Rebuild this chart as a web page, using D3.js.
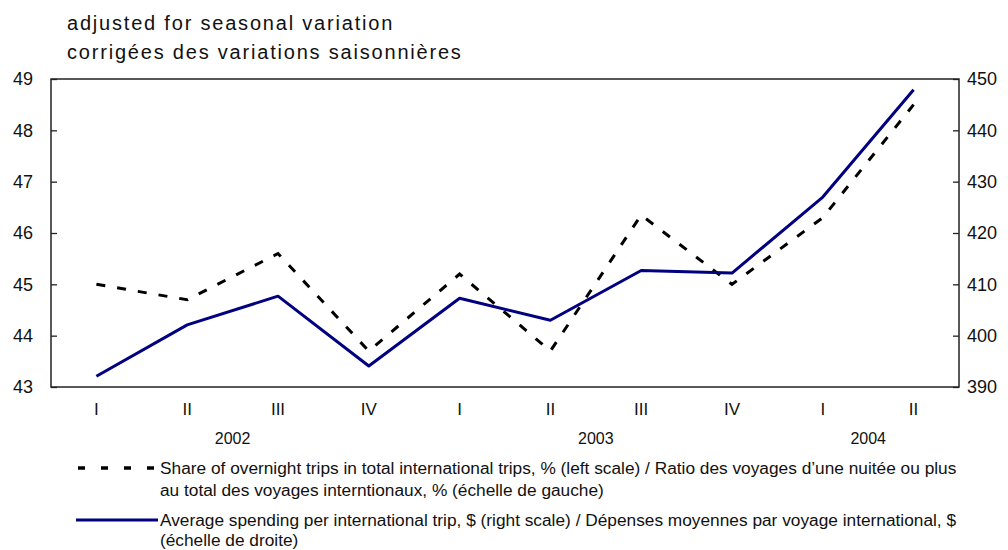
<!DOCTYPE html>
<html>
<head>
<meta charset="utf-8">
<script src="https://cdn.jsdelivr.net/npm/d3@7"></script>
<style>
  body { margin: 0; background: #fff; }
  svg text { fill: #111; }
</style>
</head>
<body>
<div id="chart"></div>
<script>
const quarterKeys = ['2002 I', '2002 II', '2002 III', '2002 IV', '2003 I', '2003 II', '2003 III', '2003 IV', '2004 I', '2004 II'];
const quarterLabels = ['I', 'II', 'III', 'IV', 'I', 'II', 'III', 'IV', 'I', 'II'];
const years = ['2002', '2003', '2004'];
const shareValues = [45.0, 44.7, 45.6, 43.7, 45.2, 43.7, 46.35, 45.0, 46.3, 48.5];
const spendingValues = [392.1, 402.1, 407.7, 394.1, 407.3, 403.0, 412.7, 412.2, 427.0, 447.9];
const leftTicks = [43, 44, 45, 46, 47, 48, 49];
const rightTicks = [390, 400, 410, 420, 430, 440, 450];

const W = 1008, H = 550;
const margin = { top: 79, right: 49, bottom: 163, left: 51 };
const width = W - margin.left - margin.right;
const height = H - margin.top - margin.bottom;
const FONT = 'Arial, "Liberation Sans", sans-serif';
const NARROW = '"Liberation Sans Narrow", "Arial Narrow", sans-serif';

const svg = d3.select('#chart').append('svg')
    .attr('width', W)
    .attr('height', H);

// titles (wide bitmap-like spacing in the original)
const titles = svg.append('g')
    .style('font-family', FONT).style('font-size', '20px').style('letter-spacing', '1.8px');
titles.append('text').attr('x', 67).attr('y', 30).text('adjusted for seasonal variation');
titles.append('text').attr('x', 67).attr('y', 59).text('corrigées des variations saisonnières');

const g = svg.append('g').attr('transform', `translate(${margin.left},${margin.top})`);

const x = d3.scalePoint().domain(quarterKeys).range([0, width]).padding(0.5);
const yLeft = d3.scaleLinear().domain([43, 49]).range([height, 0]);
const yRight = d3.scaleLinear().domain([390, 450]).range([height, 0]);

// axes with inward ticks
const leftAxis = g.append('g')
    .call(d3.axisLeft(yLeft).tickValues(leftTicks).tickSizeInner(-6).tickSizeOuter(0).tickPadding(18).tickFormat(d3.format('d')));
const rightAxis = g.append('g')
    .attr('transform', `translate(${width},0)`)
    .call(d3.axisRight(yRight).tickValues(rightTicks).tickSizeInner(-6).tickSizeOuter(0).tickPadding(8).tickFormat(d3.format('d')));

[leftAxis, rightAxis].forEach(a => {
    a.select('.domain').remove();
    a.selectAll('line').attr('stroke', '#222').attr('stroke-width', 1.3);
    a.selectAll('text').style('font-family', FONT).style('font-size', '18px').attr('fill', '#111');
});

// plot frame
g.append('rect')
    .attr('width', width).attr('height', height)
    .attr('fill', 'none').attr('stroke', '#222').attr('stroke-width', 1.5);

// quarter labels
g.selectAll('.q')
    .data(quarterKeys)
    .enter().append('text')
    .attr('x', d => x(d))
    .attr('y', height + 28)
    .attr('text-anchor', 'middle')
    .style('font-family', NARROW).style('font-size', '17px')
    .text((d, i) => quarterLabels[i]);

// year labels centred under their quarters
g.selectAll('.yr')
    .data(years)
    .enter().append('text')
    .attr('x', yr => d3.mean(quarterKeys.filter(k => k.startsWith(yr)), k => x(k)))
    .attr('y', height + 57)
    .attr('text-anchor', 'middle')
    .style('font-family', NARROW).style('font-size', '16px')
    .text(d => d);

// lines
const shareLine = d3.line().x((d, i) => x(quarterKeys[i])).y(d => yLeft(d));
const spendLine = d3.line().x((d, i) => x(quarterKeys[i])).y(d => yRight(d));

g.append('path')
    .datum(shareValues)
    .attr('d', shareLine)
    .attr('fill', 'none').attr('stroke', '#000')
    .attr('stroke-width', 3).attr('stroke-dasharray', '9,12');

g.append('path')
    .datum(spendingValues)
    .attr('d', spendLine)
    .attr('fill', 'none').attr('stroke', '#000080')
    .attr('stroke-width', 3).attr('stroke-linejoin', 'round');

// legend
const legend = svg.append('g').style('font-family', NARROW).style('font-size', '17.3px');
legend.append('line')
    .attr('x1', 78).attr('x2', 158).attr('y1', 468).attr('y2', 468)
    .attr('stroke', '#000').attr('stroke-width', 3.5).attr('stroke-dasharray', '7,16');
legend.append('text').attr('x', 160).attr('y', 474)
    .text('Share of overnight trips in total international trips, % (left scale) / Ratio des voyages d\u2019une nuitée ou plus');
legend.append('text').attr('x', 160).attr('y', 496)
    .text('au total des voyages interntionaux, % (échelle de gauche)');
legend.append('line')
    .attr('x1', 76).attr('x2', 158).attr('y1', 520).attr('y2', 520)
    .attr('stroke', '#000080').attr('stroke-width', 3);
legend.append('text').attr('x', 160).attr('y', 526)
    .text('Average spending per international trip, $ (right scale) / Dépenses moyennes par voyage international, $');
legend.append('text').attr('x', 160).attr('y', 546)
    .text('(échelle de droite)');
</script>
</body>
</html>
